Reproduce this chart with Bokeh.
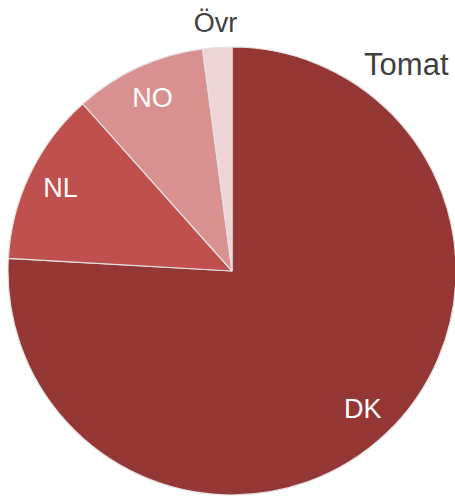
import math
from bokeh.plotting import figure
from bokeh.models import Range1d, ColumnDataSource
from bokeh.core.properties import value
from bokeh.embed import file_html
from bokeh.resources import INLINE

# ---- data ----
categories = ["DK", "NL", "NO", "Övr"]
shares = [75.9, 12.5, 9.5, 2.1]
colors = ["#953735", "#C0504D", "#D8918F", "#EED4D4"]
title_text = "Tomat"

# ---- layout ----
W, H = 455, 497
cx, cy, r = 231.5, H - 270.5, 224.0

total = sum(shares)
starts, ends, mids = [], [], []
a = math.pi / 2
for s in shares:
    sweep = 2 * math.pi * s / total
    starts.append(a)
    ends.append(a - sweep)
    mids.append(a - sweep / 2)
    a -= sweep

src = ColumnDataSource(dict(cat=categories, start=starts, end=ends, color=colors))

p = figure(width=W, height=H, output_backend="svg", toolbar_location=None,
           x_range=Range1d(0, W), y_range=Range1d(0, H),
           min_border=0, background_fill_color="white", border_fill_color="white")
p.axis.visible = False
p.grid.visible = False
p.outline_line_color = None

p.wedge(x=cx, y=cy, radius=r, start_angle="start", end_angle="end", direction="clock",
        fill_color="color", line_color="#E2E2E2", line_width=1.2, source=src)

# labels
in_x, in_y, in_t = [], [], []
out_x, out_y, out_t = [], [], []
for cat, s, m in zip(categories, shares, mids):
    if s / total > 0.05:
        in_x.append(cx + 0.85 * r * math.cos(m))
        in_y.append(cy + 0.85 * r * math.sin(m))
        in_t.append(cat)
    else:
        out_x.append(cx + 1.11 * r * math.cos(m))
        out_y.append(cy + 1.11 * r * math.sin(m))
        out_t.append(cat)

p.text(x=in_x, y=in_y, text=in_t, text_align="center", text_baseline="middle",
       text_color="white", text_font=value("Liberation Sans"), text_font_size=value("27px"))
p.text(x=out_x, y=out_y, text=out_t, text_align="center", text_baseline="middle",
       text_color="#404040", text_font=value("Liberation Sans"), text_font_size=value("27px"))

p.text(x=[448], y=[H - 63.5], text=[title_text], text_align="right", text_baseline="middle",
       text_color="#404040", text_font=value("Liberation Sans"), text_font_size=value("31px"))

open("out.html", "w").write(file_html(p, INLINE))
